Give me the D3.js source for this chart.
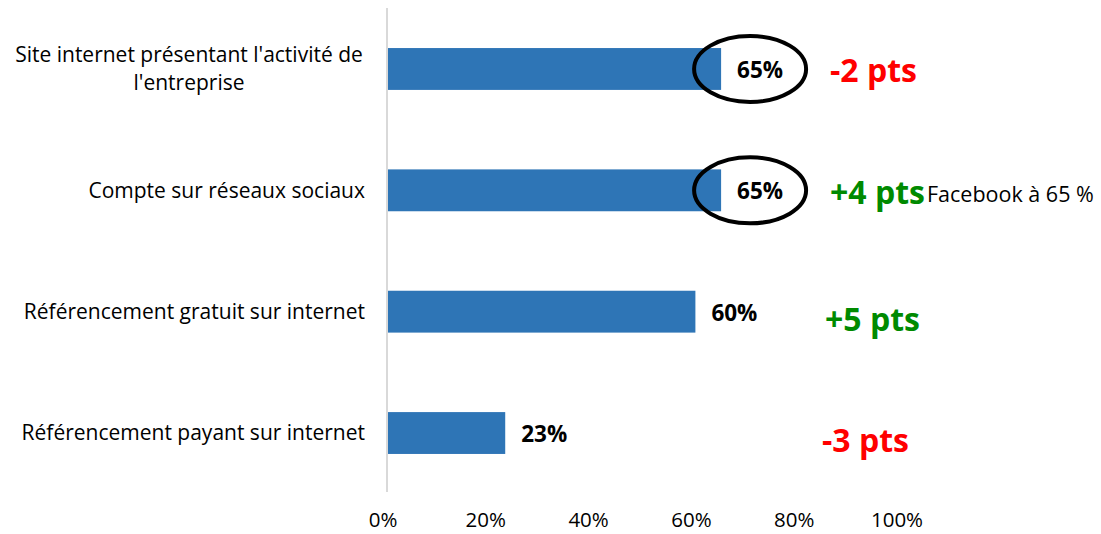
<!DOCTYPE html>
<html><head><meta charset="utf-8">
<script src="https://cdn.jsdelivr.net/npm/d3@7"></script>
<style>body{margin:0;background:#fff}svg{display:block}</style>
</head><body><svg id="c" width="1101" height="534"></svg>
<script>
const categories = [["Site internet présentant l'activité de","l'entreprise"],["Compte sur réseaux sociaux"],["Référencement gratuit sur internet"],["Référencement payant sur internet"]];
const values = [65, 65, 60, 23];
const deltas = ["-2 pts", "+4 pts", "+5 pts", "-3 pts"];
const deltaColors = ["#ff0000", "#008a00", "#008a00", "#ff0000"];
const deltaOffsets = [[0,2],[0,2],[-5,8],[-8,8]];
const circled = [true, true, false, false];
const notes = ["", "Facebook à 65 %", "", ""];
const xTicks = [0, 20, 40, 60, 80, 100];

const F = "'Open Sans', sans-serif";
const svg = d3.select("#c");
const x = d3.scaleLinear().domain([0,100]).range([387, 901]);
const y = d3.scaleBand().domain(d3.range(categories.length)).range([8, 494]).paddingInner(0.655).paddingOuter(0.33);

svg.append("line").attr("x1",387).attr("x2",387).attr("y1",8).attr("y2",492).attr("stroke","#d9d9d9").attr("stroke-width",2);

svg.selectAll("rect.bar").data(values).join("rect").attr("class","bar")
  .attr("x", x(0)+1).attr("y",(d,i)=>y(i)).attr("width",d=>x(d)-x(0)-1).attr("height",y.bandwidth()).attr("fill","#2e75b6");

svg.selectAll("text.val").data(values).join("text").attr("class","val")
  .attr("x",d=>x(d)+16).attr("y",(d,i)=>y(i)+y.bandwidth()/2+1).attr("dy","0.35em")
  .attr("font-family",F).attr("font-weight","bold").attr("font-size",22.5).attr("fill","#000")
  .text(d=>d+"%");

values.forEach((d,i)=>{ if(circled[i]) svg.append("ellipse").attr("cx",x(d)+29).attr("cy",y(i)+y.bandwidth()/2)
  .attr("rx",56).attr("ry",33).attr("fill","none").attr("stroke","#000").attr("stroke-width",4); });

categories.forEach((lines,i)=>{
  const cy = y(i)+y.bandwidth()/2;
  const t = svg.append("text").attr("font-family",F).attr("font-size",21).attr("fill","#000");
  if(lines.length===1){
    t.attr("x",365).attr("y",cy).attr("dy","0.35em").attr("text-anchor","end").text(lines[0]);
  } else {
    t.attr("text-anchor","middle");
    lines.forEach((l,j)=>t.append("tspan").attr("x",189).attr("y",cy+(j-(lines.length-1)/2)*28).attr("dy","0.35em").text(l));
  }
});

svg.selectAll("text.delta").data(deltas).join("text").attr("class","delta")
  .attr("x",(d,i)=>830+deltaOffsets[i][0]).attr("y",(d,i)=>y(i)+y.bandwidth()/2+deltaOffsets[i][1]).attr("dy","0.35em")
  .attr("font-family",F).attr("font-weight","bold").attr("font-size",32)
  .attr("fill",(d,i)=>deltaColors[i]).text(d=>d);

notes.forEach((n,i)=>{ if(n) svg.append("text").attr("x",927).attr("y",y(i)+y.bandwidth()/2+4).attr("dy","0.35em")
  .attr("font-family",F).attr("font-size",21.5).attr("fill","#000").text(n); });

svg.selectAll("text.tick").data(xTicks).join("text").attr("class","tick")
  .attr("x",d=>x(d)-4).attr("y",527).attr("text-anchor","middle")
  .attr("font-family",F).attr("font-size",20.5).attr("fill","#000").text(d=>d+"%");
</script></body></html>
